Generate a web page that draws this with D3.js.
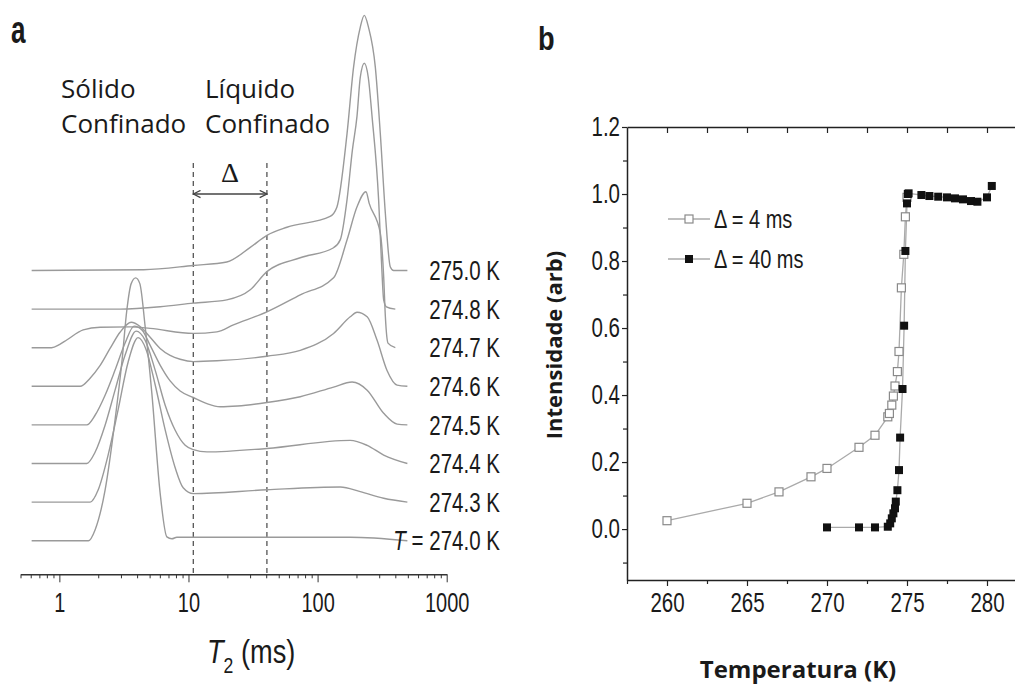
<!DOCTYPE html>
<html lang="pt">
<head>
  <meta charset="UTF-8">
  <title>T2 / Intensidade</title>
  <script src="https://cdnjs.cloudflare.com/ajax/libs/d3/7.8.5/d3.min.js"></script>
  <style>
    body { margin: 0; background: #fff; }
    svg text { font-family: "Liberation Sans", Arial, sans-serif; fill: #1a1a1a; }
    svg text.ttl { font-family: "Open Sans", "Noto Sans", sans-serif; }
  </style>
</head>
<body>
<script>
  // painel a: distribuicoes de T2 (T2 em ms, amplitude em unidades do espaçamento entre curvas)
  const tempLabels = ['274.0 K', '274.3 K', '274.4 K', '274.5 K', '274.6 K', '274.7 K', '274.8 K', '275.0 K'];

  const t2_2740 = [[0.61,0],[1.68,0],[1.89,0.28],[2.26,1.31],[2.7,3.13],[3.06,4.68],[3.33,5.97],[3.6,6.66],[3.9,6.81],[4.2,6.66],[4.62,5.54],[5.2,3.83],[6.03,1.24],[6.8,0.1],[7.43,0.05],[8.13,0.09],[179,0.09],[496,0]];
  const t2_2743 = [[0.61,0],[1.73,0],[2.0,0.32],[2.39,1.23],[2.85,2.39],[3.41,3.63],[4.07,4.26],[4.7,3.95],[5.52,3.04],[6.6,1.87],[7.89,0.89],[9.1,0.37],[10.9,0.22],[40.5,0.32],[150,0.39],[214,0.27],[325,0.1],[496,0]];
  const t2_2744 = [[0.61,0],[1.63,0],[1.89,0.29],[2.26,0.99],[2.7,1.9],[3.23,2.81],[3.93,3.43],[4.62,3.19],[5.52,2.42],[6.6,1.51],[7.89,0.86],[9.43,0.47],[10.9,0.36],[13.9,0.3],[40.5,0.39],[179,0.6],[242,0.47],[325,0.22],[496,0]];
  const t2_2745 = [[0.61,0],[1.63,0],[1.89,0.25],[2.26,0.77],[2.7,1.42],[3.23,2.12],[3.79,2.56],[4.38,2.45],[5.05,2.06],[6.03,1.55],[7.21,1.14],[8.62,0.88],[10.9,0.71],[13.9,0.55],[17.6,0.47],[24,0.49],[40.5,0.58],[73.4,0.73],[133,0.98],[185,1.11],[242,0.9],[325,0.3],[413,0.02],[496,0]];
  const t2_2746 = [[0.61,0],[1.45,0],[1.73,0.21],[2.07,0.54],[2.47,0.98],[2.95,1.4],[3.6,1.66],[4.22,1.55],[5.05,1.27],[6.03,0.98],[7.21,0.8],[8.62,0.7],[10.9,0.64],[16.6,0.66],[40.5,0.78],[73.4,0.93],[133,1.37],[179,1.8],[202,1.92],[242,1.8],[289,1.19],[345,0.41],[413,0.03],[496,0]];
  const t2_2747 = [[0.61,0],[0.87,0],[1.0,0.08],[1.14,0.2],[1.53,0.46],[2.07,0.53],[3.53,0.54],[5.05,0.5],[10.9,0.37],[16.6,0.41],[22.3,0.59],[40.5,0.93],[73.4,1.37],[133,1.81],[169,2.79],[202,3.65],[237,4.04],[251,3.74],[306,2.97],[325,1.84],[335,0.8],[351,0.12],[400,0]];
  const t2_2748 = [[0.61,0],[2.95,0],[6.03,0.06],[10.9,0.155],[19.8,0.24],[30.1,0.5],[40.5,0.97],[73.4,1.33],[133,1.59],[150,1.8],[169,2.83],[186,4.12],[202,5.0],[214,6.0],[230,6.37],[247,6.0],[264,5.0],[297,2.83],[312,1.28],[325,0.24],[341,0.06],[400,0]];
  const t2_2750 = [[0.61,0],[4.5,0.02],[10.9,0.13],[19.8,0.22],[30.1,0.6],[40.5,0.91],[57.9,1.12],[125,1.4],[141,1.64],[169,3.54],[190,5.27],[214,6.3],[230,6.61],[248,6.3],[280,5.27],[306,3.55],[335,1.47],[366,0.09],[388,0],[496,0]];
  const t2Curves = [t2_2740, t2_2743, t2_2744, t2_2745, t2_2746, t2_2747, t2_2748, t2_2750];

  const deltaLimits = [10.9, 40.5];        // linhas tracejadas (ms)
  const t2TickLabels = [1, 10, 100, 1000];

  // painel b: intensidade vs temperatura
  const tempOpen = [260, 265, 267, 269, 270, 272, 273, 273.8, 273.9, 274.05, 274.15, 274.25, 274.4, 274.5, 274.65, 274.8, 274.9, 275];
  const intOpen  = [0.025, 0.077, 0.111, 0.156, 0.181, 0.244, 0.28, 0.335, 0.345, 0.37, 0.397, 0.427, 0.47, 0.53, 0.72, 0.82, 0.932, 0.99];
  const tempFilled = [270, 272, 273, 273.8, 273.95, 274.05, 274.15, 274.25, 274.3, 274.4, 274.5, 274.57, 274.72, 274.82, 274.9, 275.0, 275.05, 275.1, 275.9, 276.4, 276.95, 277.5, 278.0, 278.5, 279.0, 279.4, 280.0, 280.3];
  const intFilled  = [0.005, 0.005, 0.005, 0.007, 0.017, 0.032, 0.047, 0.062, 0.082, 0.116, 0.176, 0.273, 0.418, 0.607, 0.83, 0.972, 1.0, 1.002, 0.997, 0.994, 0.992, 0.99, 0.987, 0.984, 0.979, 0.977, 0.99, 1.024];
  const legendLabels = ['\u0394 = 4 ms', '\u0394 = 40 ms'];
  const tempTicks = [260, 265, 270, 275, 280];
  const intTicks = [0, 0.2, 0.4, 0.6, 0.8, 1.0, 1.2];

  const width = 1015, height = 684;
  const svg = d3.select('body').append('svg').attr('width', width).attr('height', height);
  svg.append('rect').attr('width', width).attr('height', height).attr('fill', '#fff');

  // the source uses a condensed face; squeeze Liberation Sans horizontally
  function condense(sel, s) {
    sel.each(function () {
      const t = d3.select(this);
      const x = +t.attr('x') || 0;
      t.attr('x', x / s).attr('transform', `scale(${s},1)`);
    });
  }

  // ---------------- painel a ----------------
  const xA = d3.scaleLog().domain([0.5, 1000]).range([20.5, 446.7]);
  const yA = d3.scaleLinear().domain([0, 14]).range([540.7, 0.3]);
  const axisYA = 574.3;

  const ga = svg.append('g');

  ga.append('g')
    .attr('transform', `translate(0,${axisYA})`)
    .call(d3.axisBottom(xA).tickValues(xA.ticks().filter(t => !t2TickLabels.includes(t))).tickSize(4).tickSizeOuter(0).tickFormat(''))
    .call(g => g.select('.domain').remove())
    .call(g => g.selectAll('line').attr('stroke', '#333'));

  ga.append('g')
    .attr('transform', `translate(0,${axisYA})`)
    .call(d3.axisBottom(xA).tickValues(t2TickLabels).tickSize(8).tickSizeOuter(0).tickPadding(11).tickFormat(d3.format('d')))
    .call(g => g.select('.domain').attr('stroke', '#333').attr('stroke-width', 1.4))
    .call(g => g.selectAll('line').attr('stroke', '#333'))
    .call(g => g.selectAll('text').style('font-size', '27px').attr('fill', '#222'))
    .call(g => condense(g.selectAll('text'), 0.74));

  // linhas tracejadas do intervalo Delta
  ga.selectAll('.dl').data(deltaLimits).enter().append('line')
    .attr('x1', d => xA(d)).attr('x2', d => xA(d))
    .attr('y1', 163).attr('y2', axisYA)
    .attr('stroke', '#555').attr('stroke-width', 1.3).attr('stroke-dasharray', '5,4');

  const defs = svg.append('defs');
  defs.append('marker')
    .attr('id', 'arr').attr('viewBox', '0 0 10 10').attr('refX', 9).attr('refY', 5)
    .attr('markerWidth', 9).attr('markerHeight', 9).attr('orient', 'auto-start-reverse')
    .attr('markerUnits', 'userSpaceOnUse')
    .append('path').attr('d', 'M1,1 L9,5 L1,9').attr('fill', 'none').attr('stroke', '#444').attr('stroke-width', 1.4);

  ga.append('line')
    .attr('x1', xA(deltaLimits[0])).attr('x2', xA(deltaLimits[1]))
    .attr('y1', 194).attr('y2', 194)
    .attr('stroke', '#444').attr('stroke-width', 1.3)
    .attr('marker-start', 'url(#arr)').attr('marker-end', 'url(#arr)');

  ga.append('text')
    .attr('x', (xA(deltaLimits[0]) + xA(deltaLimits[1])) / 2).attr('y', 182)
    .attr('text-anchor', 'middle')
    .style('font-family', '"Liberation Serif", "DejaVu Serif", serif').style('font-size', '28px')
    .attr('fill', '#333')
    .text('\u0394');

  const lineA = k => d3.line()
    .x(d => xA(d[0]))
    .y(d => yA(k + d[1]))
    .curve(d3.curveMonotoneX);

  t2Curves.forEach((c, k) => {
    ga.append('path')
      .datum(c)
      .attr('fill', 'none')
      .attr('stroke', '#9a9a9a')
      .attr('stroke-width', 1.4)
      .attr('d', lineA(k));
  });

  const lab = ga.selectAll('.tl').data(tempLabels).enter().append('text')
    .attr('x', 500).attr('y', (d, k) => yA(k)).attr('dy', '0.36em')
    .attr('text-anchor', 'end')
    .style('font-size', '27px');
  lab.each(function (d, k) {
    const t = d3.select(this);
    if (k === 0) {
      t.append('tspan').style('font-style', 'italic').text('T');
      t.append('tspan').text(' = ' + d);
    } else {
      t.text(d);
    }
  });
  condense(lab, 0.76);

  const xTitle = ga.append('text').attr('x', 207).attr('y', 663).style('font-size', '34px');
  xTitle.append('tspan').style('font-style', 'italic').text('T');
  xTitle.append('tspan').attr('dy', 10).style('font-size', '22px').text('2');
  xTitle.append('tspan').attr('dy', -10).text(' (ms)');
  condense(xTitle, 0.8);

  [['S\u00f3lido', 61, 98], ['Confinado', 61, 133], ['L\u00edquido', 205, 98], ['Confinado', 205, 133]].forEach(t => {
    ga.append('text').attr('class', 'ttl').attr('x', t[1]).attr('y', t[2])
      .style('font-size', '26px').attr('fill', '#111').text(t[0]);
  });

  condense(svg.append('text').attr('x', 11).attr('y', 43).style('font-size', '39px').style('font-weight', 'bold').text('a'), 0.67);
  condense(svg.append('text').attr('x', 538).attr('y', 50).style('font-size', '34px').style('font-weight', 'bold').text('b'), 0.8);

  // ---------------- painel b ----------------
  const xB = d3.scaleLinear().domain([257.5, 282]).range([627, 1019]);
  const yB = d3.scaleLinear().domain([-0.152, 1.2]).range([580, 127]);
  const gb = svg.append('g');

  const styleAxis = g => {
    g.select('.domain').attr('stroke', '#222').attr('stroke-width', 1.5);
    g.selectAll('line').attr('stroke', '#222').attr('stroke-width', 1.2);
    g.selectAll('text').style('font-size', '27px').attr('fill', '#222');
    condense(g.selectAll('text'), 0.76);
  };

  gb.append('g').attr('transform', 'translate(0,580)')
    .call(d3.axisBottom(xB).tickValues(tempTicks).tickSize(6).tickSizeOuter(0).tickPadding(7).tickFormat(d3.format('d')))
    .call(styleAxis);
  gb.append('g').attr('transform', 'translate(0,580)')
    .call(d3.axisBottom(xB).tickValues([257.5, 262.5, 267.5, 272.5, 277.5]).tickSize(4).tickSizeOuter(0).tickFormat(''))
    .call(g => g.select('.domain').remove())
    .call(styleAxis);

  gb.append('g').attr('transform', 'translate(0,127)')
    .call(d3.axisTop(xB).tickValues([262.5, 267.5, 272.5, 277.5].concat(tempTicks)).tickSize(-6).tickSizeOuter(0).tickFormat(''))
    .call(styleAxis);

  gb.append('g').attr('transform', 'translate(627,0)')
    .call(d3.axisLeft(yB).tickValues(intTicks).tickSize(5).tickSizeOuter(0).tickPadding(2).tickFormat(d3.format('.1f')))
    .call(styleAxis);
  gb.append('g').attr('transform', 'translate(627,0)')
    .call(d3.axisLeft(yB).tickValues([-0.1, 0.1, 0.3, 0.5, 0.7, 0.9, 1.1]).tickSize(4).tickSizeOuter(0).tickFormat(''))
    .call(g => g.select('.domain').remove())
    .call(styleAxis);

  const openPts = tempOpen.map((t, i) => [t, intOpen[i]]);
  const filledPts = tempFilled.map((t, i) => [t, intFilled[i]]);
  const lineB = d3.line().x(d => xB(d[0])).y(d => yB(d[1]));

  gb.append('path').datum(openPts).attr('fill', 'none').attr('stroke', '#aaa').attr('stroke-width', 1.3).attr('d', lineB);
  gb.append('path').datum(filledPts).attr('fill', 'none').attr('stroke', '#aaa').attr('stroke-width', 1.3).attr('d', lineB);

  const sq = 8;
  gb.selectAll('.op').data(openPts).enter().append('rect')
    .attr('x', d => xB(d[0]) - sq / 2).attr('y', d => yB(d[1]) - sq / 2)
    .attr('width', sq).attr('height', sq)
    .attr('fill', '#fff').attr('stroke', '#8a8a8a').attr('stroke-width', 1.2);
  gb.selectAll('.fp').data(filledPts).enter().append('rect')
    .attr('x', d => xB(d[0]) - sq / 2).attr('y', d => yB(d[1]) - sq / 2)
    .attr('width', sq).attr('height', sq)
    .attr('fill', '#111');

  // legenda
  const leg = gb.append('g');
  legendLabels.forEach((l, i) => {
    const y = 219 + i * 40;
    leg.append('line').attr('x1', 668).attr('x2', 710).attr('y1', y).attr('y2', y).attr('stroke', '#aaa').attr('stroke-width', 1.3);
    const r = leg.append('rect').attr('x', 689 - sq / 2).attr('y', y - sq / 2).attr('width', sq).attr('height', sq);
    if (i === 0) r.attr('fill', '#fff').attr('stroke', '#8a8a8a').attr('stroke-width', 1.2);
    else r.attr('fill', '#111');
    condense(leg.append('text').attr('x', 714).attr('y', y).attr('dy', '0.36em').style('font-size', '25px').text(l), 0.8);
  });

  gb.append('text').attr('class', 'ttl')
    .attr('transform', 'translate(562,345) rotate(-90)')
    .attr('text-anchor', 'middle')
    .style('font-size', '22px').style('font-weight', 'bold').attr('fill', '#111')
    .text('Intensidade (arb)');

  gb.append('text').attr('class', 'ttl')
    .attr('x', 798).attr('y', 678)
    .attr('text-anchor', 'middle')
    .style('font-size', '24px').style('font-weight', 'bold').attr('fill', '#111')
    .text('Temperatura (K)');
</script>
</body>
</html>
